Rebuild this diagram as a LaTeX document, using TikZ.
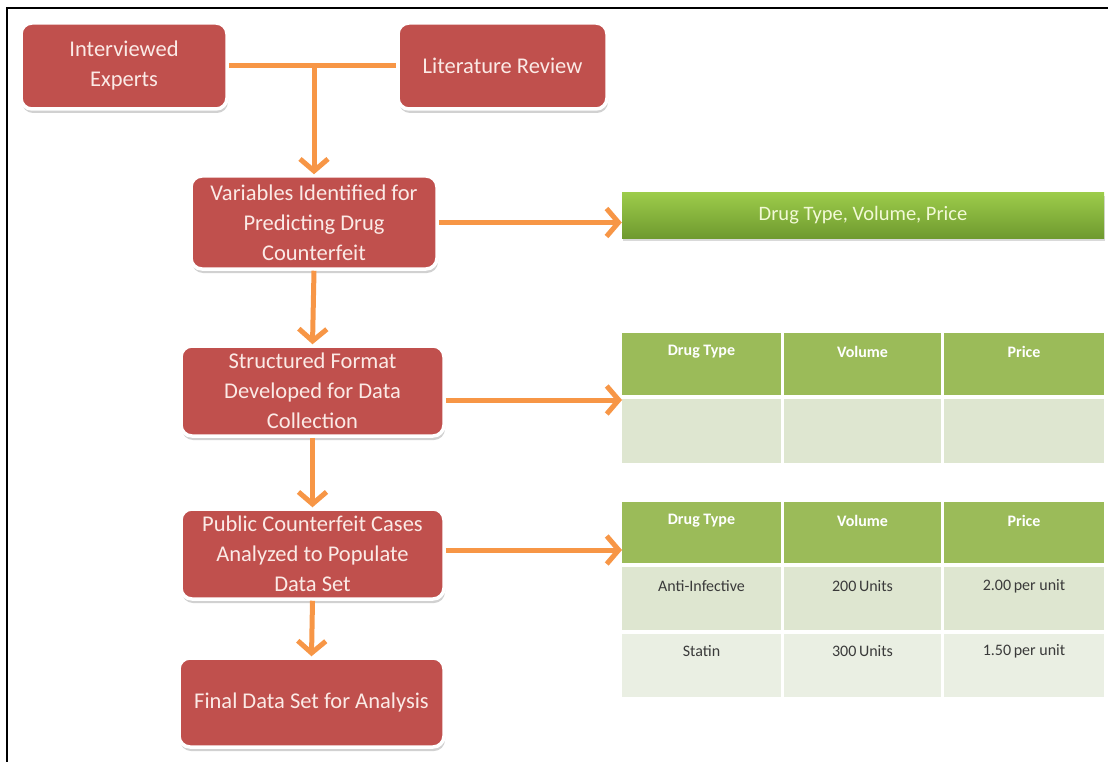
\documentclass[tikz,border=0pt]{standalone}
\usepackage{fontspec}
\setmainfont{Carlito}
\usetikzlibrary{arrows.meta,shadows}

\definecolor{boxred}{HTML}{C0504D}
\definecolor{boxtext}{HTML}{FBEAE6}
\definecolor{arroworange}{HTML}{F79646}
\definecolor{hdrgreen}{HTML}{9BBB59}
\definecolor{rowgreen}{HTML}{DEE6D0}
\definecolor{rowlight}{HTML}{EAEFE3}
\definecolor{bartop}{HTML}{9CCB4A}
\definecolor{barbottom}{HTML}{6F9A2F}
\definecolor{bartext}{HTML}{F2F9D6}
\definecolor{celltext}{HTML}{3A3A3A}

\tikzset{
  redbox/.style={rounded corners=11pt, fill=boxred, draw=white, line width=3.5pt,
    text=boxtext, align=center, inner sep=0pt,
    font=\fontsize{22.5}{30}\selectfont,
    drop shadow={shadow xshift=1pt, shadow yshift=-4pt, opacity=0.3, fill=black!60}},
  conn/.style={draw=arroworange, line width=5pt},
  flow/.style={conn, -{Straight Barb[length=12pt, width=28pt]}},
  hcell/.style={fill=hdrgreen, inner sep=0pt, outer sep=0pt},
  dcell/.style={fill=rowgreen, inner sep=0pt, outer sep=0pt},
  lcell/.style={fill=rowlight, inner sep=0pt, outer sep=0pt},
  htext/.style={text=white, font=\fontsize{16}{18}\selectfont\bfseries, inner sep=0pt},
  dtext/.style={text=celltext, font=\fontsize{16}{18}\selectfont, inner sep=0pt},
  frame/.style={draw=black, line width=2.2pt},
}

\begin{document}
\begin{tikzpicture}[x=1pt, y=-1pt]
\useasboundingbox (0,0) rectangle (1108,762);

% outer frame (top and left edges)
\draw[frame] (1108,8) -- (7,8) -- (7,762);

% process boxes
\node[redbox, minimum width=206pt, minimum height=86pt] (exp) at (124,66) {Interviewed\\Experts};
\node[redbox, minimum width=209pt, minimum height=86pt] (lit) at (502.5,66) {Literature Review};
\node[redbox, minimum width=246pt, minimum height=93pt] (vars) at (314,222.5)
  {Variables Identified for\\Predicting Drug\\Counterfeit};
\node[redbox, minimum width=263pt, minimum height=90pt] (struct) at (312.5,391)
  {Structured Format\\Developed for Data\\Collection};
\node[redbox, minimum width=263pt, minimum height=90pt] (pub) at (312.5,554)
  {Public Counterfeit Cases\\Analyzed to Populate\\Data Set};
\node[redbox, minimum width=265pt, minimum height=89pt] (final) at (311.5,702.5)
  {Final Data Set for Analysis};

% variable summary bar
\node[minimum width=482pt, minimum height=45pt, inner sep=0pt,
      top color=bartop, bottom color=barbottom,
      drop shadow={shadow xshift=1pt, shadow yshift=-3pt, opacity=0.25, fill=black!60},
      text=bartext, font=\fontsize{20.5}{24}\selectfont] (bar) at (863,215.5)
  {Drug Type, Volume, Price};

% empty data collection table
\node[hcell, minimum width=159pt, minimum height=62pt] (ta1) at (701.5,364) {};
\node[hcell, minimum width=157pt, minimum height=62pt] (ta2) at (862.5,364) {};
\node[hcell, minimum width=160pt, minimum height=62pt] (ta3) at (1024,364) {};
\node[dcell, minimum width=159pt, minimum height=64pt] (ta4) at (701.5,431) {};
\node[dcell, minimum width=157pt, minimum height=64pt] (ta5) at (862.5,431) {};
\node[dcell, minimum width=160pt, minimum height=64pt] (ta6) at (1024,431) {};
\node[htext] (ta1t) at ([yshift=-19pt]ta1.north) {Drug Type};
\node[htext] (ta2t) at ([yshift=-19pt]ta2.north) {Volume};
\node[htext] (ta3t) at ([yshift=-19pt]ta3.north) {Price};

% populated table
\node[hcell, minimum width=159pt, minimum height=61pt] (tb1) at (701.5,532.5) {};
\node[hcell, minimum width=157pt, minimum height=61pt] (tb2) at (862.5,532.5) {};
\node[hcell, minimum width=160pt, minimum height=61pt] (tb3) at (1024,532.5) {};
\node[dcell, minimum width=159pt, minimum height=63pt] (tb4) at (701.5,598.5) {};
\node[dcell, minimum width=157pt, minimum height=63pt] (tb5) at (862.5,598.5) {};
\node[dcell, minimum width=160pt, minimum height=63pt] (tb6) at (1024,598.5) {};
\node[lcell, minimum width=159pt, minimum height=63pt] (tb7) at (701.5,665.5) {};
\node[lcell, minimum width=157pt, minimum height=63pt] (tb8) at (862.5,665.5) {};
\node[lcell, minimum width=160pt, minimum height=63pt] (tb9) at (1024,665.5) {};
\node[htext] (tb1t) at ([yshift=-19pt]tb1.north) {Drug Type};
\node[htext] (tb2t) at ([yshift=-19pt]tb2.north) {Volume};
\node[htext] (tb3t) at ([yshift=-19pt]tb3.north) {Price};
\node[dtext] (tb4t) at ([yshift=-19pt]tb4.north) {Anti-Infective};
\node[dtext] (tb5t) at ([yshift=-19pt]tb5.north) {200\,Units};
\node[dtext] (tb6t) at ([yshift=-19pt]tb6.north) {2.00\,per unit};
\node[dtext] (tb7t) at ([yshift=-17pt]tb7.north) {Statin};
\node[dtext] (tb8t) at ([yshift=-17pt]tb8.north) {300\,Units};
\node[dtext] (tb9t) at ([yshift=-17pt]tb9.north) {1.50\,per unit};

% connectors
\draw[conn] (exp.east) -- (lit.west);
\draw[flow] (vars.north |- exp.east) -- (vars.north);
\draw[flow] (vars.south) -- (struct.north);
\draw[flow] (struct.south) -- (pub.north);
\draw[flow] (pub.south) -- (final.north);
\draw[flow] (vars.east) -- (vars.east -| bar.west);
\draw[flow] ([yshift=-9pt]struct.east) -- ([yshift=-9pt]struct.east -| ta4.west);
\draw[flow] ([yshift=4pt]pub.east) -- ([yshift=4pt]pub.east -| tb1.west);
\end{tikzpicture}
\end{document}
